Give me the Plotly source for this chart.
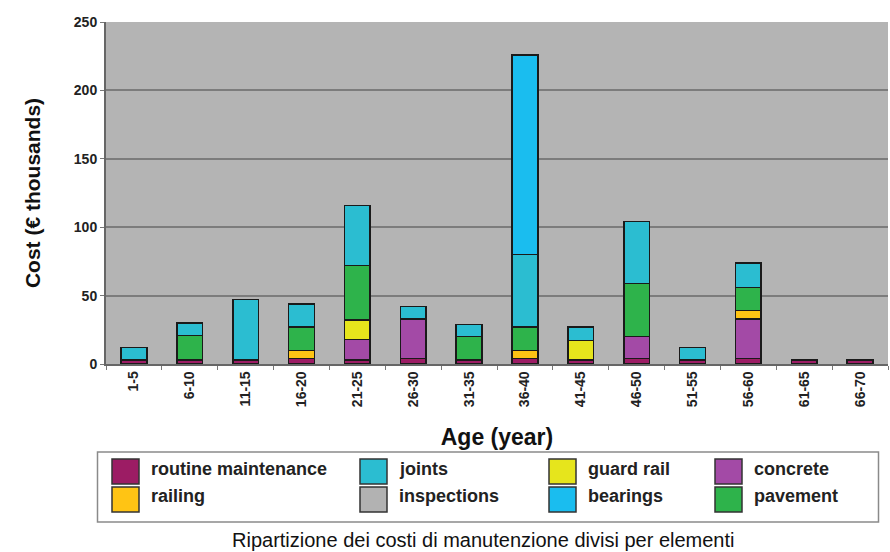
import plotly.graph_objects as go

# Age classes (years)
ages = ["1-5", "6-10", "11-15", "16-20", "21-25", "26-30", "31-35",
        "36-40", "41-45", "46-50", "51-55", "56-60", "61-65", "66-70"]

# Maintenance costs per element (€ thousands), stacked bottom to top
routine_maintenance = [3, 3, 3, 4, 3, 4, 3, 4, 3, 4, 3, 4, 3, 3]
concrete            = [0, 0, 0, 0, 15, 29, 0, 0, 0, 16, 0, 29, 0, 0]
guard_rail          = [0, 0, 0, 0, 14, 0, 0, 0, 14, 0, 0, 0, 0, 0]
railing             = [0, 0, 0, 6, 0, 0, 0, 6, 0, 0, 0, 6, 0, 0]
inspections         = [0, 0, 0, 0, 0, 0, 0, 0, 0, 0, 0, 0, 0, 0]
pavement            = [0, 18, 0, 17, 40, 0, 17, 17, 0, 39, 0, 17, 0, 0]
joints              = [9, 9, 44, 17, 44, 9, 9, 53, 10, 45, 9, 18, 0, 0]
bearings            = [0, 0, 0, 0, 0, 0, 0, 146, 0, 0, 0, 0, 0, 0]

stack = [
    ("routine maintenance", routine_maintenance, "#9C1C64"),
    ("concrete", concrete, "#A34AA6"),
    ("guard rail", guard_rail, "#E6E51C"),
    ("railing", railing, "#FFC414"),
    ("inspections", inspections, "#B2B2B2"),
    ("pavement", pavement, "#2EB34B"),
    ("joints", joints, "#2BBDD1"),
    ("bearings", bearings, "#1ABDEF"),
]
colors = {name: c for name, _, c in stack}

# Legend layout: 4 columns x 2 rows
legend_rows = [
    ["routine maintenance", "joints", "guard rail", "concrete"],
    ["railing", "inspections", "bearings", "pavement"],
]

FONT = "Liberation Sans, Arial, sans-serif"
W, H = 890, 552
ML, MR, MT, MB = 106, 2, 22, 188

fig = go.Figure()
for name, vals, col in stack:
    fig.add_trace(go.Bar(
        x=ages, y=vals, name=name,
        marker=dict(color=col, line=dict(color="#1a1a1a", width=1.5)),
        showlegend=False,
    ))

fig.update_layout(
    barmode="stack",
    bargap=0.54,
    width=W, height=H,
    margin=dict(l=ML, r=MR, t=MT, b=MB),
    paper_bgcolor="white",
    plot_bgcolor="#B4B4B4",
    font=dict(family=FONT, color="#111111"),
    xaxis=dict(
        type="category",
        tickangle=-90,
        tickfont=dict(size=14, family=FONT, color="#222222", weight="bold"),
        ticks="outside", tickson="boundaries", ticklen=4,
        tickcolor="#777777",
        showline=True, linecolor="#666666", linewidth=1.5,
        showgrid=False,
        title=dict(text="<b>Age (year)</b>", font=dict(size=23, family=FONT),
                   standoff=23),
    ),
    yaxis=dict(
        range=[0, 250], dtick=50,
        tickfont=dict(size=14, family=FONT, color="#222222", weight="bold"),
        ticks="outside", ticklen=4, tickcolor="#777777",
        showline=True, linecolor="#666666", linewidth=2,
        gridcolor="#7C7C7C", gridwidth=1.5,
        zeroline=False,
        title=dict(text="<b>Cost (€ thousands)</b>", font=dict(size=21, family=FONT),
                   standoff=27),
    ),
)

# Custom legend box drawn in pixel positions converted to paper coords
pw, ph = W - ML - MR, H - MT - MB


def px(x):
    return (x - ML) / pw


def py(y):
    return (H - MB - y) / ph


fig.add_shape(type="rect", xref="paper", yref="paper",
              x0=px(97.5), x1=px(878.5), y0=py(522), y1=py(452),
              line=dict(color="#8A8A8A", width=1.5), fillcolor="white")

col_x = [112, 360, 549, 715]
row_y = [(459, 484), (487, 512)]
for r, row in enumerate(legend_rows):
    for c, name in enumerate(row):
        y0, y1 = row_y[r]
        x0 = col_x[c]
        fig.add_shape(type="rect", xref="paper", yref="paper",
                      x0=px(x0), x1=px(x0 + 27), y0=py(y1), y1=py(y0),
                      line=dict(color="#333333", width=1.5),
                      fillcolor=colors[name])
        fig.add_annotation(xref="paper", yref="paper",
                           x=px(x0 + 37), y=py((y0 + y1) / 2 - 3),
                           xanchor="left", yanchor="middle", showarrow=False,
                           text=f"<b>{name}</b>",
                           font=dict(size=18, family=FONT, color="#222222"))

fig.add_annotation(xref="paper", yref="paper", x=px(483), y=py(540),
                   xanchor="center", yanchor="middle", showarrow=False,
                   text="Ripartizione dei costi di manutenzione divisi per elementi",
                   font=dict(size=20, family="Liberation Sans Narrow, Arial Narrow, " + FONT,
                             color="#111111"))

fig.write_html("out.html")
